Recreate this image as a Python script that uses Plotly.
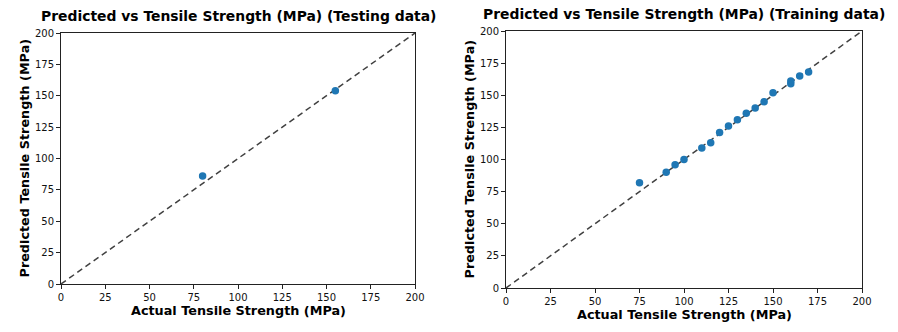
import plotly.graph_objects as go

# Testing set: actual vs predicted tensile strength (MPa)
test_actual = [80, 155]
test_pred = [86, 154]

# Training set: actual vs predicted tensile strength (MPa)
train_actual = [75, 90, 95, 100, 110, 115, 120, 125, 130, 135, 140, 145, 150, 160, 160, 165, 170]
train_pred = [82, 90, 96, 100, 109, 113, 121, 126, 131, 136, 140, 145, 152, 159, 161, 165, 168]

ticks = [0, 25, 50, 75, 100, 125, 150, 175, 200]
ref_line = [0, 200]

W, H = 898, 332
font = "DejaVu Sans"
blue = "#1f77b4"

fig = go.Figure()

panels = [
    dict(x=test_actual, y=test_pred, xa="x", ya="y",
         px=(61, 415), py=(33, 284),
         title="Predicted vs Tensile Strength (MPa) (Testing data)"),
    dict(x=train_actual, y=train_pred, xa="x2", ya="y2",
         px=(506, 862), py=(31, 288),
         title="Predicted vs Tensile Strength (MPa) (Training data)"),
]

annotations = []
for i, p in enumerate(panels):
    fig.add_trace(go.Scatter(x=ref_line, y=ref_line, mode="lines",
                             line=dict(color="rgba(0,0,0,0.75)", width=1.5, dash="6px,4px"),
                             xaxis=p["xa"], yaxis=p["ya"], showlegend=False, hoverinfo="skip",
                             cliponaxis=False))
    fig.add_trace(go.Scatter(x=p["x"], y=p["y"], mode="markers",
                             marker=dict(color=blue, size=7.5, line=dict(width=0)),
                             xaxis=p["xa"], yaxis=p["ya"], showlegend=False))
    sfx = "" if i == 0 else "2"
    axis_common = dict(range=[0, 200], tickvals=ticks, ticktext=[str(t) for t in ticks],
                       ticks="outside", ticklen=4, tickwidth=1, tickcolor="#222",
                       showline=True, linecolor="#222", linewidth=1, mirror=True,
                       showgrid=False, zeroline=False, automargin=False,
                       tickfont=dict(family=font, size=10, color="#111"))
    fig.layout["xaxis" + sfx] = dict(axis_common,
                                     domain=[p["px"][0] / W, p["px"][1] / W],
                                     anchor="y" + sfx)
    fig.layout["yaxis" + sfx] = dict(axis_common,
                                     domain=[1 - p["py"][1] / H, 1 - p["py"][0] / H],
                                     anchor="x" + sfx)
    cx = (p["px"][0] + p["px"][1]) / 2
    cy = (p["py"][0] + p["py"][1]) / 2
    annotations.append(dict(text="<b>" + p["title"] + "</b>", x=cx / W, y=1 - (p["py"][0] - 17) / H,
                            xref="paper", yref="paper", showarrow=False,
                            xanchor="center", yanchor="middle",
                            font=dict(family=font, size=13.9, color="#000")))
    annotations.append(dict(text="<b>Actual Tensile Strength (MPa)</b>", x=cx / W,
                            y=1 - (p["py"][1] + 26) / H, xref="paper", yref="paper",
                            showarrow=False, xanchor="center", yanchor="middle",
                            font=dict(family=font, size=12.8, color="#000")))
    annotations.append(dict(text="<b>Predicted Tensile Strength (MPa)</b>",
                            x=(p["px"][0] - 37) / W, y=1 - cy / H,
                            xref="paper", yref="paper", showarrow=False, textangle=-90,
                            xanchor="center", yanchor="middle",
                            font=dict(family=font, size=12.8, color="#000")))

fig.update_layout(width=W, height=H, margin=dict(l=0, r=0, t=0, b=0, autoexpand=False),
                  paper_bgcolor="white", plot_bgcolor="white",
                  annotations=annotations)

fig.write_html("out.html")
